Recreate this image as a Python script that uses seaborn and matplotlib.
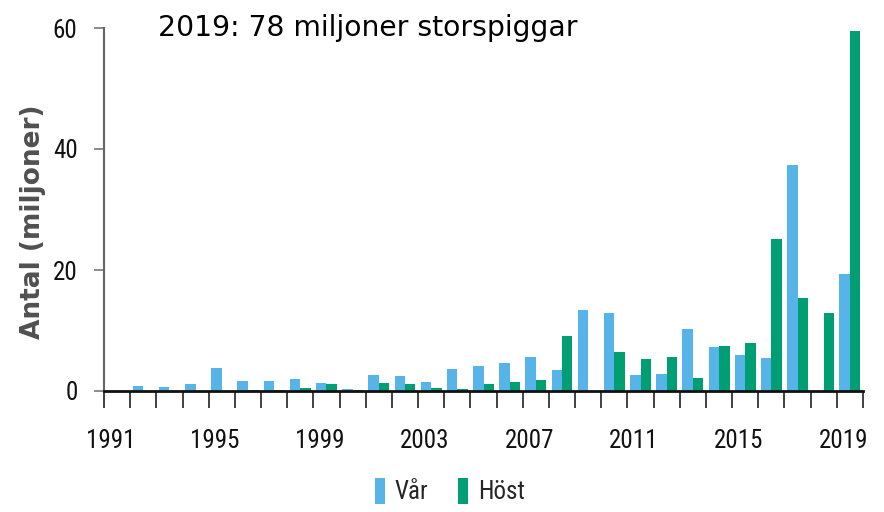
# -*- coding: utf-8 -*-
"""Storspigg - antal per år, vår och höst."""

import matplotlib.pyplot as plt
import numpy as np
import pandas as pd
import seaborn as sns
from matplotlib import font_manager, ticker

# Data (miljoner individer)
years = list(range(1991, 2020))
var = [np.nan, 0.8, 0.7, 1.1, 3.8, 1.6, 1.6, 2.0, 1.4, 0.4,
       2.6, 2.4, 1.5, 3.7, 4.1, 4.6, 5.7, 3.5, 13.4, 12.9,
       2.6, 2.75, 10.2, 7.3, 5.9, 5.5, 37.4, np.nan, 19.4]
host = [np.nan, np.nan, np.nan, np.nan, np.nan, 0.15, 0.15, 0.5, 1.15, 0.1,
        1.4, 1.15, 0.45, 0.3, 1.1, 1.5, 1.8, 9.1, np.nan, 6.5,
        5.3, 5.6, 2.15, 7.4, 7.9, 25.2, 15.3, 12.9, 59.5]
seasons = ["Vår", "Höst"]
label_years = [1991, 1995, 1999, 2003, 2007, 2011, 2015, 2019]
y_ticks = [0, 20, 40, 60]
title = "2019: 78 miljoner storspiggar"

colors = {"Vår": "#56B4E9", "Höst": "#009E73"}

# Long-form table
data = pd.DataFrame(
    {
        "år": years * 2,
        "säsong": [seasons[0]] * len(years) + [seasons[1]] * len(years),
        "antal": var + host,
    }
)

sns.set_style("white")
plt.rcParams["font.family"] = ["DejaVu Sans"]

# Pick a narrow family if one is installed
installed = {f.name for f in font_manager.fontManager.ttflist}
narrow = [f for f in ["Liberation Sans Narrow", "DejaVu Sans Condensed", "Roboto Condensed"]
          if f in installed]
num_size = 18 if narrow else 15
narrow = narrow[:1] + ["DejaVu Sans"]

fig = plt.figure(figsize=(8.84, 5.12), dpi=100)
ax = fig.add_axes([104 / 884, 1 - 391 / 512, (863 - 104) / 884, (391 - 28) / 512])

sns.barplot(
    data=data,
    x="år",
    y="antal",
    hue="säsong",
    order=years,
    hue_order=seasons,
    palette=colors,
    saturation=1,
    width=0.8,
    errorbar=None,
    linewidth=0,
    ax=ax,
)

# Axes limits
ax.set_xlim(-0.5, len(years) - 0.5)
ax.set_ylim(0, 60)

# X ticks: marks between years, labels every fourth year
ax.xaxis.set_minor_locator(ticker.FixedLocator(np.arange(len(years) + 1) - 0.5))
pos = [years.index(y) - 0.25 for y in label_years]
ax.xaxis.set_major_locator(ticker.FixedLocator(pos))
ax.xaxis.set_major_formatter(ticker.FixedFormatter([str(y) for y in label_years]))
ax.tick_params(axis="x", which="minor", length=12, width=1.3, color="#333333", bottom=True)
ax.tick_params(axis="x", which="major", length=0, pad=27)

# Y ticks
ax.set_yticks(y_ticks)
ax.tick_params(axis="y", length=7, width=1.2, color="#777777", pad=12, left=True)

for lab in ax.get_xticklabels() + ax.get_yticklabels():
    lab.set_family(narrow)
    lab.set_fontsize(num_size)
    lab.set_color("#111111")

# Spines
sns.despine(ax=ax)
ax.spines["left"].set_color("#666666")
ax.spines["left"].set_linewidth(1.5)
ax.spines["bottom"].set_color("#111111")
ax.spines["bottom"].set_linewidth(2)

# Labels
ax.set_xlabel("")
ax.set_ylabel("")
fig.text(33 / 884, 1 - 222 / 512, "Antal (miljoner)", rotation=90,
         ha="center", va="center", fontsize=19, fontweight="bold", color="#505050")
fig.text(158 / 884, 1 - 28 / 512, title, ha="left", va="center",
         fontsize=20.3, color="black")

# Legend
handles, labels = ax.get_legend_handles_labels()
ax.get_legend().remove()
fig.legend(
    handles,
    labels,
    loc="center",
    bbox_to_anchor=(450 / 884, 1 - 491 / 512),
    ncol=2,
    frameon=False,
    handlelength=0.4,
    handleheight=1.2,
    handletextpad=0.4,
    columnspacing=1.2,
    prop={"family": narrow, "size": num_size},
)

fig.savefig("out.png", dpi=100)
